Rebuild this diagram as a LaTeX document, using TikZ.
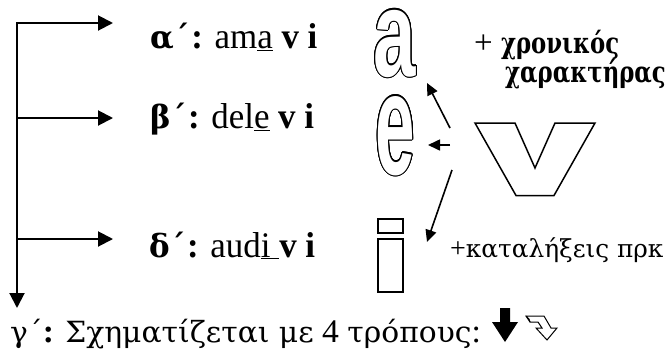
\documentclass[tikz,border=0pt]{standalone}
\usepackage{fontspec}
\usepackage{graphicx}
\setmainfont{Liberation Serif}
\newfontfamily\glyphfont{Liberation Sans}
\newfontfamily\grf[Scale=MatchLowercase]{DejaVu Serif}
\newcommand\gr[1]{{\grf #1}}
\usetikzlibrary{arrows.meta,calc}
\tikzset{
  conn/.style={line width=2pt, line join=miter, -{Triangle[length=15pt,width=15pt]}},
  vconn/.style={line width=1.6pt, -{Triangle[length=12pt,width=11pt]}},
  lbl/.style={anchor=base west, inner sep=0pt, font=\fontsize{36}{40}\selectfont},
  btm/.style={anchor=base west, inner sep=0pt, font=\fontsize{33}{38}\selectfont},
  side/.style={anchor=base west, inner sep=0pt, font=\fontsize{33}{38}\selectfont},
  side2/.style={anchor=base west, inner sep=0pt, font=\fontsize{28}{33}\selectfont},
  glyphA/.style={anchor=base, inner sep=0pt, font=\glyphfont\bfseries\fontsize{123}{130}\selectfont},
  glyphE/.style={anchor=base, inner sep=0pt, font=\glyphfont\bfseries\fontsize{145}{150}\selectfont},
  ibox/.style={draw, line width=1.5pt, fill=white, inner sep=0pt},
  vshape/.style={draw, line width=1.5pt, line join=miter, fill=white},
}
\begin{document}
\begin{tikzpicture}[x=1pt,y=-1pt]
\useasboundingbox (0,0) rectangle (672,349);
% trunk
\coordinate (c1) at (17,23);
\coordinate (c2) at (17,118);
\coordinate (c3) at (17,239);
\coordinate (vt) at (17,308);
\coordinate (t1) at (113,23);
\coordinate (t2) at (113,118);
\coordinate (t3) at (113,239);
\draw[conn, {Triangle[length=15pt,width=15pt]}-{Triangle[length=15pt,width=15pt]}] (vt) -- (c1) -- (t1);
\draw[conn] (c2) -- (t2);
\draw[conn] (c3) -- (t3);
% labels
\node[lbl] (alpha) at (150,48.5) {\scalebox{0.97}[1]{\textbf{\gr{α\kern1pt ΄}\kern1pt:} am\underline{a} \textbf{v i}}};
\node[lbl] (beta) at (150,128.5) {\scalebox{0.97}[1]{\textbf{\gr{β\kern1pt ΄}\kern1pt:} del\underline{e} \textbf{v i}}};
\node[lbl] (delta) at (149,257) {\scalebox{0.97}[1]{\textbf{\gr{δ\kern1pt ΄}\kern1pt:} aud\underline{i\ }\textbf{v i}}};
\node[btm] (gamma) at (10,342) {\scalebox{1.02}[1]{\gr{γ΄}\textbf{:} \gr{Σχηματίζεται με} 4 \gr{τρόπους}:}};
% outlined letters
\coordinate (pa) at (395,76);
\foreach \ang in {0,20,...,340} \node[glyphA, text=black] at ($(pa)+(\ang:1.1pt)$) {\scalebox{0.62}[1]{a}};
\node[glyphA, text=white] (la) at (pa) {\scalebox{0.62}[1]{a}};
\coordinate (pe) at (395.5,174);
\foreach \ang in {0,20,...,340} \node[glyphE, text=black] at ($(pe)+(\ang:1.1pt)$) {\scalebox{0.49}[1]{e}};
\node[glyphE, text=white] (le) at (pe) {\scalebox{0.49}[1]{e}};
\node[ibox, minimum width=25pt, minimum height=14pt] (idot) at (390.5,226) {};
\node[ibox, minimum width=25pt, minimum height=53pt] (istem) at (390.5,265.5) {};
% V
\draw[vshape] (475,123) -- (515,123) -- (535,168) -- (555,123) -- (595,123) -- (554,195.5) -- (516,195.5) -- cycle;
% arrows from V
\coordinate (s1) at (450,128); \coordinate (e1) at (427,83);
\coordinate (s2) at (450,145); \coordinate (e2) at (428,145);
\coordinate (s3) at (452,170); \coordinate (e3) at (427,242);
\draw[vconn] (s1) -- (e1);
\draw[vconn] (s2) -- (e2);
\draw[vconn] (s3) -- (e3);
% side texts
\node[side] (plus1) at (474,53) {+ \scalebox{0.78}[1]{\textbf{\gr{χρονικός}}}};
\node[side] (plus2) at (505,82) {\scalebox{0.78}[1]{\textbf{\gr{χαρακτήρας}}}};
\node[side2] (plus3) at (450,257) {+\gr{καταλήξεις πρκ}};
% bottom symbols
\fill (500,308) -- (510,308) -- (510,322) -- (518,322) -- (505,342) -- (492,322) -- (500,322) -- cycle;
\draw[line width=1pt, fill=white, line join=miter] (526,316) -- (544,316) -- (551,328) -- (557,328) -- (547,340) -- (536,328) -- (542,328) -- (538,322) -- (530,322) -- cycle;
\draw[line width=1pt] (526,316) -- (529,319) -- (530,322);
\end{tikzpicture}
\end{document}
